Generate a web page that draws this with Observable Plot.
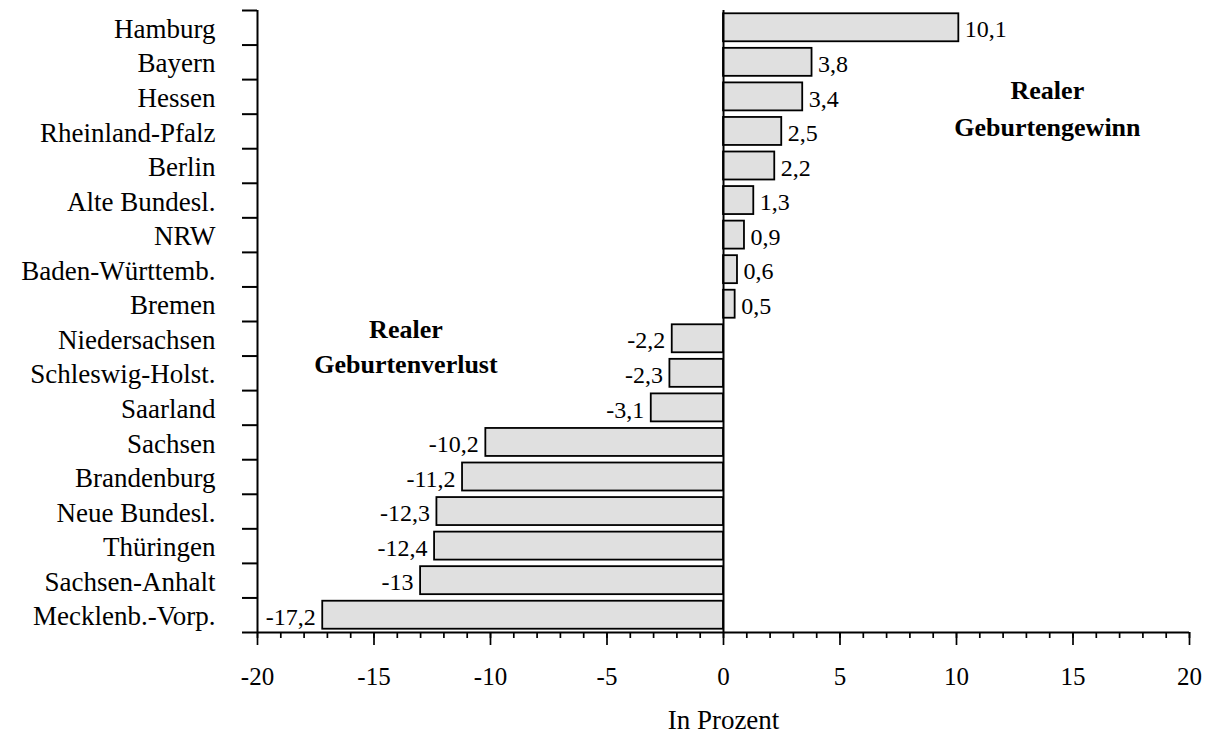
<!DOCTYPE html>
<html>
<head>
<meta charset="utf-8">
<script src="https://cdn.jsdelivr.net/npm/d3@7"></script>
<script src="https://cdn.jsdelivr.net/npm/@observablehq/plot@0.6"></script>
<style>
  html, body { margin: 0; padding: 0; background: white; }
</style>
</head>
<body>
<div id="chart"></div>
<script>
const states = ["Hamburg", "Bayern", "Hessen", "Rheinland-Pfalz", "Berlin", "Alte Bundesl.", "NRW", "Baden-Württemb.", "Bremen", "Niedersachsen", "Schleswig-Holst.", "Saarland", "Sachsen", "Brandenburg", "Neue Bundesl.", "Thüringen", "Sachsen-Anhalt", "Mecklenb.-Vorp."];
const values = [10.1, 3.8, 3.4, 2.5, 2.2, 1.3, 0.9, 0.6, 0.5, -2.2, -2.3, -3.1, -10.2, -11.2, -12.3, -12.4, -13, -17.2];
const majorTicks = [-20, -15, -10, -5, 0, 5, 10, 15, 20];
const minorTicks = d3.range(-20, 21, 1);
const xLabel = "In Prozent";
const gainText = ["Realer", "Geburtengewinn"];
const lossText = ["Realer", "Geburtenverlust"];

const data = states.map((s, i) => ({state: s, value: values[i]}));
const fmt = d => String(d.value).replace(".", ",");

const W = 1211, H = 734;
const mT = 10, mB = 102, mL = 257, mR = 22;
const step = (H - mT - mB) / states.length;
const font = "'Liberation Serif', 'Times New Roman', serif";

const chart = Plot.plot({
  width: W, height: H,
  marginLeft: mL, marginRight: mR, marginTop: mT, marginBottom: mB,
  style: {fontFamily: font, background: "white", color: "black", overflow: "visible"},
  x: {domain: [-20, 20], axis: null, label: null},
  y: {domain: states, paddingInner: 0.19, paddingOuter: 0.095, round: false, axis: null, label: null},
  marks: [
    Plot.barX(data, {x: "value", y: "state", fill: "#e0e0e0", stroke: "black", strokeWidth: 1.8}),
    Plot.ruleX([0], {stroke: "black", strokeWidth: 2}),
    Plot.ruleX([-20], {stroke: "black", strokeWidth: 2}),
    // y ticks at band boundaries
    Plot.ruleY(states, {y: d => d, x1: -20 - 15 / 23.3, x2: -20, dy: -step / 2, stroke: "black", strokeWidth: 2}),
    // bottom boundary tick + x axis line
    Plot.ruleY([states[states.length - 1]], {y: d => d, x1: -20 - 15 / 23.3, x2: 20, dy: step / 2, stroke: "black", strokeWidth: 2}),
    // category labels
    Plot.axisY({tickSize: 0, tickPadding: 42, fontSize: 27, dy: 1.5, fill: "black", label: null}),
    // x axis ticks
    Plot.axisX({ticks: minorTicks, tickSize: 6, tickFormat: () => "", strokeWidth: 1.7, stroke: "black", label: null}),
    Plot.axisX({ticks: majorTicks, tickSize: 13, tickPadding: 22, fontSize: 25, strokeWidth: 1.7, stroke: "black", fill: "black", tickFormat: d => String(d), label: null}),
    // value labels
    Plot.text(data.filter(d => d.value > 0), {x: "value", y: "state", text: fmt, textAnchor: "start", dx: 6, dy: 2, fontSize: 24, fill: "black"}),
    Plot.text(data.filter(d => d.value < 0), {x: "value", y: "state", text: fmt, textAnchor: "end", dx: -7, dy: 2, fontSize: 24, fill: "black"}),
    // annotations
    Plot.text([gainText[0]], {x: 13.9, y: () => states[2], text: d => d, dy: -6.7, fontSize: 26, fontWeight: "bold", fill: "black"}),
    Plot.text([gainText[1]], {x: 13.9, y: () => states[3], text: d => d, dy: -4.2, fontSize: 26, fontWeight: "bold", fill: "black"}),
    Plot.text([lossText[0]], {x: -13.63, y: () => states[9], text: d => d, dy: -9.6, fontSize: 26, fontWeight: "bold", fill: "black"}),
    Plot.text([lossText[1]], {x: -13.63, y: () => states[10], text: d => d, dy: -8.2, fontSize: 26, fontWeight: "bold", fill: "black"}),
    // x label
    Plot.text([xLabel], {x: 0, frameAnchor: "bottom", text: d => d, dy: 96, fontSize: 27, fill: "black", lineAnchor: "bottom"})
  ]
});
document.getElementById("chart").appendChild(chart);
</script>
</body>
</html>
